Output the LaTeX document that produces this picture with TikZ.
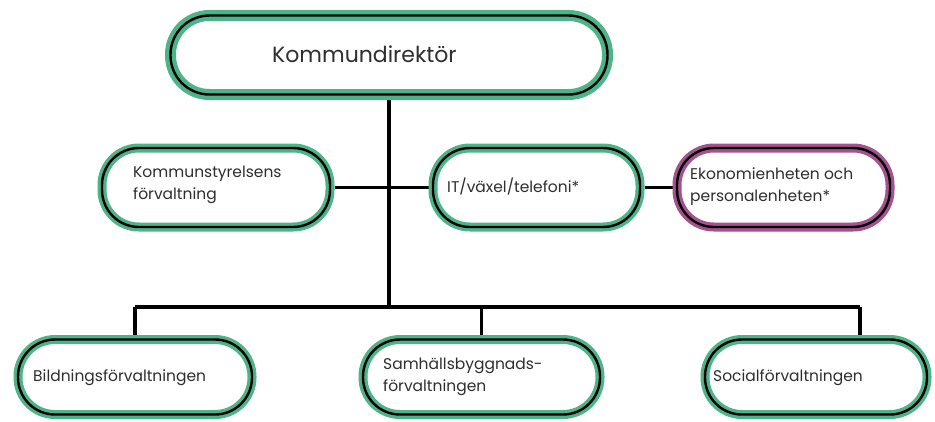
\documentclass[tikz,border=0pt]{standalone}
\usepackage{fontspec}
\setmainfont{Poppins}
\definecolor{kgreen}{HTML}{4DB389}
\definecolor{kpurple}{HTML}{A4528F}
\definecolor{ktext}{HTML}{2E2E2E}
\pgfdeclarelayer{background}
\pgfsetlayers{background,main}
\tikzset{
  box/.style={rectangle, draw=kgreen, line width=9pt, fill=white, rounded corners=37pt,
    inner sep=0pt, postaction={draw=black, line width=2.4pt}},
  topbox/.style={box, line width=11pt, rounded corners=39pt},
  pbox/.style={box, draw=kpurple},
  lbl/.style={anchor=west, align=left, text=ktext, font=\fontsize{15.5}{22}\selectfont, inner sep=0pt},
  conn/.style={draw=black, line width=3.2pt}
}
\begin{document}
\begin{tikzpicture}[x=1pt,y=-1pt]
\useasboundingbox (0,0) rectangle (935,421);
% boxes
\node[topbox, minimum width=437pt, minimum height=79pt] (top) at (389,55) {};
\node[box, minimum width=228pt, minimum height=79pt] (ks) at (216,187.5) {};
\node[box, minimum width=207pt, minimum height=79pt] (it) at (536.5,187.5) {};
\node[pbox, minimum width=213pt, minimum height=79pt] (eko) at (783.5,187.5) {};
\node[box, minimum width=234pt, minimum height=75pt] (bil) at (135,377) {};
\node[box, minimum width=237pt, minimum height=75pt] (sam) at (481.5,377) {};
\node[box, minimum width=222pt, minimum height=75pt] (soc) at (816,377) {};
% labels
\node[lbl, font=\fontsize{22}{26}\selectfont] (ttop) at (272,54) {Kommundirektör};
\node[lbl] (tks) at (133,185) {Kommunstyrelsens\\förvaltning};
\node[lbl] (tit) at (447,187) {IT/växel/telefoni*};
\node[lbl] (teko) at (690,187) {Ekonomienheten och\\personalenheten*};
\node[lbl] (tbil) at (33,378) {Bildningsförvaltningen};
\node[lbl] (tsam) at (383,377) {Samhällsbyggnads-\\förvaltningen};
\node[lbl] (tsoc) at (713,378) {Socialförvaltningen};
% connectors
\coordinate (j) at (389,307);
\coordinate (sd) at (860,307);
\begin{pgfonlayer}{background}
\draw[conn] (top.south) -- (j);
\draw[conn] (ks.east) -- (it.west);
\draw[conn] (it.east) -- (eko.west);
\draw[conn] (bil.north |- j) -- (sd);
\draw[conn] (bil.north |- j) -- (bil.north);
\draw[conn] (sam.north |- j) -- (sam.north);
\draw[conn] (sd) -- (sd |- soc.north);
\end{pgfonlayer}
\end{tikzpicture}
\end{document}
